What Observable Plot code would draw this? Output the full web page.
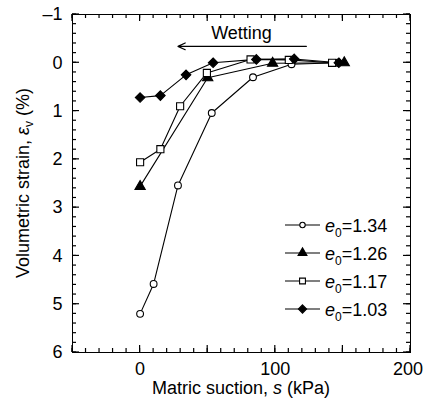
<!DOCTYPE html>
<html><head><meta charset="utf-8">
<script src="https://cdn.jsdelivr.net/npm/d3@7"></script>
<script src="https://cdn.jsdelivr.net/npm/@observablehq/plot@0.6"></script>
<style>body{margin:0;background:#fff}</style>
</head><body><div id="chart"></div>
<script>
// ---- data ----
const seriesLabels = ["1.34", "1.26", "1.17", "1.03"];
const seriesSymbols = ["circle", "triangle", "square", "diamond2"];
const seriesFill = ["white", "black", "white", "black"];
const suction = [
  [0, 10, 28, 53, 83.5, 112, 146],
  [0, 50, 98, 151],
  [0, 15, 29.6, 49.4, 81.7, 110, 142],
  [0, 15, 34, 54, 86, 114, 147]
];
const strain = [
  [5.2, 4.58, 2.54, 1.04, 0.3, 0.03, 0.0],
  [2.56, 0.31, 0.01, 0.0],
  [2.06, 1.79, 0.9, 0.21, -0.07, -0.06, 0.0],
  [0.72, 0.68, 0.25, 0.0, -0.07, -0.08, 0.0]
];
const xMajorTicks = [-50, 0, 50, 100, 150, 200];
const xTickLabels = [0, 100];
const xLastLabel = [200];
const xMinorTicks = d3.range(-50, 201, 10);
const yMajorTicks = [-1, 0, 1, 2, 3, 4, 5, 6];
const yMinorTicks = d3.range(-1, 6.001, 0.2).map(v => +v.toFixed(1));
const arrowData = [{x1: 123, x2: 28, y: -0.34}];
const noteData = [{x: 75, y: -0.62, text: "Wetting"}];

// ---- build ----
const rows = [];
seriesLabels.forEach((lab, i) => suction[i].forEach((s, j) => rows.push({series: lab, idx: i, s, e: strain[i][j]})));
const symR = [3.4, 3.8, 4.0, 4.3];

const font = "Liberation Sans, Arial, Helvetica, sans-serif";
const fs = 18;
const W = 424, H = 412, mL = 72, mR = 14, mT = 14, mB = 60;
const X0 = -50, X1 = 200, Y0 = -1, Y1 = 6;

const marks = [
  Plot.frame({stroke: "black"}),
  Plot.axisX({anchor: "bottom", ticks: xTickLabels, tickSize: 0, tickPadding: 10, fontSize: fs, label: null}),
  Plot.axisX({anchor: "bottom", ticks: xLastLabel, tickSize: 0, tickPadding: 10, fontSize: fs, dx: -2.5, label: null}),
  Plot.axisY({anchor: "left", ticks: yMajorTicks, tickSize: 0, tickPadding: 10, fontSize: fs, label: null,
    tickFormat: d => d < 0 ? "\u2013" + Math.abs(d) : String(d)}),
  Plot.line(rows, {x: "s", y: "e", z: "series", stroke: "black", strokeWidth: 1.1}),
  ...seriesLabels.map((lab, i) => Plot.dot(rows.filter(r => r.idx === i), {
    x: "s", y: "e", symbol: seriesSymbols[i], r: symR[i], fill: seriesFill[i], stroke: "black", strokeWidth: 1.1
  })),
  Plot.arrow(arrowData, {x1: "x1", x2: "x2", y1: "y", y2: "y", stroke: "black", strokeWidth: 1.2, headLength: 10, headAngle: 50}),
  Plot.text(noteData, {x: "x", y: "y", text: "text", fontSize: fs, fill: "black"})
];

const plot = Plot.plot({
  width: W, height: H,
  marginLeft: mL, marginRight: mR, marginTop: mT, marginBottom: mB,
  style: {fontFamily: font, fontSize: fs + "px"},
  x: {domain: [X0, X1]},
  y: {domain: [Y0, Y1], reverse: true},
  marks
});

const svg = d3.select(plot);
const scX = plot.scale("x"), scY = plot.scale("y");
const sx = v => scX.apply(v);
const sy = v => scY.apply(v);
const fL = sx(X0), fR = sx(X1), fT = sy(Y0), fB = sy(Y1);

// inward ticks on all four sides, placed through Plot's scales
const tg = svg.append("g").attr("stroke", "black").attr("stroke-width", 1.2);
[[xMinorTicks, 4], [xMajorTicks, 7]].forEach(([vals, len]) => vals.forEach(v => {
  const x = sx(v);
  tg.append("line").attr("x1", x).attr("x2", x).attr("y1", fB).attr("y2", fB - len).attr("stroke", "black");
  tg.append("line").attr("x1", x).attr("x2", x).attr("y1", fT).attr("y2", fT + len).attr("stroke", "black");
}));
[[yMinorTicks, 4], [yMajorTicks, 7]].forEach(([vals, len]) => vals.forEach(v => {
  const y = sy(v);
  tg.append("line").attr("y1", y).attr("y2", y).attr("x1", fL).attr("x2", fL + len).attr("stroke", "black");
  tg.append("line").attr("y1", y).attr("y2", y).attr("x1", fR).attr("x2", fR - len).attr("stroke", "black");
}));

const cx = (fL + fR) / 2, cy = (fT + fB) / 2;
function txt(sel) {
  return sel.append("text").attr("font-family", font).attr("font-size", fs).attr("fill", "black").attr("text-anchor", "start");
}
// x label
const xl = txt(svg).attr("x", cx).attr("y", 394).attr("text-anchor", "middle");
xl.append("tspan").attr("fill", "black").text("Matric suction, ");
xl.append("tspan").attr("fill", "black").attr("font-style", "italic").text("s");
xl.append("tspan").attr("fill", "black").text(" (kPa)");

// y label
const yl = txt(svg).attr("transform", `translate(29,${cy}) rotate(-90)`).attr("text-anchor", "middle");
yl.append("tspan").attr("fill", "black").text("Volumetric strain, ");
yl.append("tspan").attr("fill", "black").attr("font-style", "italic").text("\u03b5");
yl.append("tspan").attr("fill", "black").attr("font-size", 12).attr("dy", 4).text("v");
yl.append("tspan").attr("fill", "black").attr("dy", -4).text(" (%)");

// legend
const lg = svg.append("g");
const rowY0 = 225, rowStep = 28, lx1 = 285, lx2 = 320, ltx = 325;
const legR = [2.7, 3.3, 3.3, 3.7];
seriesLabels.forEach((lab, i) => {
  const y = rowY0 + i * rowStep;
  lg.append("line").attr("x1", lx1).attr("x2", lx2).attr("y1", y).attr("y2", y).attr("stroke", "black").attr("stroke-width", 1.1);
  const symType = [d3.symbolCircle, d3.symbolTriangle, d3.symbolSquare, d3.symbolDiamond2][i];
  lg.append("path").attr("d", d3.symbol(symType, Math.PI * legR[i] * legR[i])())
    .attr("transform", `translate(${(lx1 + lx2) / 2},${y})`)
    .attr("fill", seriesFill[i]).attr("stroke", "black").attr("stroke-width", 1.1);
  const t = txt(lg).attr("x", ltx).attr("y", y + 6.5);
  t.append("tspan").attr("fill", "black").attr("font-style", "italic").text("e");
  t.append("tspan").attr("fill", "black").attr("font-size", 12).attr("dy", 5).text("0");
  t.append("tspan").attr("fill", "black").attr("dy", -5).text("=" + lab);
});

document.getElementById("chart").appendChild(plot);
</script>
</body></html>
